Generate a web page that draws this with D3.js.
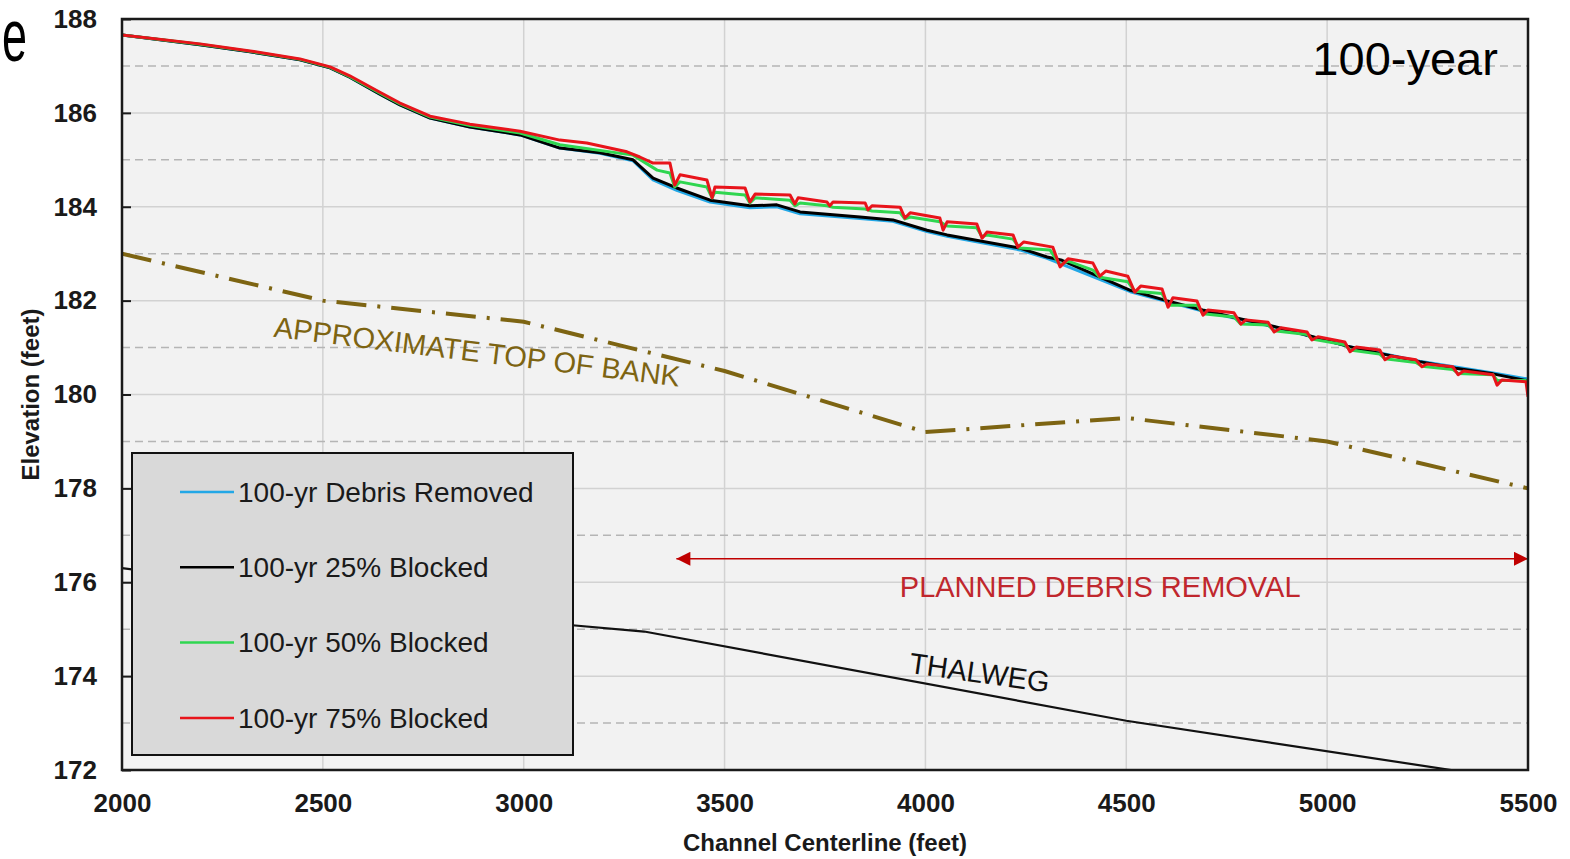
<!DOCTYPE html>
<html lang="en">

<head>
    <meta charset="UTF-8">
    <title>100-year Water Surface Profiles</title>
    <style>
        body {
            margin: 0;
            background: #fff;
            overflow: hidden;
        }

        svg {
            display: block;
        }

        text {
            font-family: "Liberation Sans", Arial, sans-serif;
        }
    </style>
</head>

<body>
    <svg></svg>

    <script src="https://d3js.org/d3.v7.min.js"></script>
    <script>
        const width = 1570;
        const height = 859;

        // axis ticks
        const xTicks = [2000, 2500, 3000, 3500, 4000, 4500, 5000, 5500];
        const yTicks = [172, 174, 176, 178, 180, 182, 184, 186, 188];
        const yMinor = [173, 175, 177, 179, 181, 183, 185, 187];

        // water surface profiles: [station (ft), elevation (ft)]
        const debrisRemoved = [
            [2000, 187.66], [2194, 187.45], [2319, 187.30], [2443, 187.13], [2518, 186.96], [2567, 186.76],
            [2642, 186.40], [2692, 186.17], [2767, 185.89], [2866, 185.70], [2991, 185.53], [3090, 185.25],
            [3190, 185.14], [3272, 184.98], [3322, 184.57], [3381, 184.35], [3464, 184.10], [3563, 183.98],
            [3630, 184.00], [3688, 183.85], [3837, 183.75], [3919, 183.69], [4004, 183.47], [4054, 183.37],
            [4235, 183.08], [4303, 182.90], [4510, 182.19], [4690, 181.78], [4868, 181.44], [5050, 181.03],
            [5230, 180.71], [5413, 180.46], [5500, 180.33]
        ];

        const blocked25 = [
            [2000, 187.66], [2194, 187.45], [2319, 187.30], [2443, 187.13], [2518, 186.96], [2567, 186.76],
            [2642, 186.40], [2692, 186.17], [2767, 185.89], [2866, 185.70], [2991, 185.53], [3090, 185.25],
            [3190, 185.15], [3272, 185.00], [3322, 184.61], [3381, 184.40], [3464, 184.14], [3563, 184.02],
            [3630, 184.04], [3688, 183.89], [3837, 183.78], [3919, 183.72], [4004, 183.50], [4054, 183.40],
            [4235, 183.12], [4303, 182.93], [4340, 182.86], [4510, 182.22], [4600, 182.00], [4690, 181.80],
            [4780, 181.62], [4868, 181.45], [4960, 181.24], [5050, 181.03], [5140, 180.86], [5230, 180.70],
            [5320, 180.56], [5413, 180.44], [5500, 180.29]
        ];

        const blocked50 = [
            [2000, 187.66], [2194, 187.46], [2319, 187.31], [2443, 187.14], [2518, 186.97], [2567, 186.77],
            [2642, 186.42], [2692, 186.19], [2767, 185.91], [2866, 185.73], [2991, 185.57], [3090, 185.32],
            [3272, 185.10], [3332, 184.78], [3364, 184.72], [3376, 184.42], [3389, 184.53], [3456, 184.42],
            [3469, 184.19], [3476, 184.31], [3551, 184.25], [3563, 184.08], [3576, 184.19], [3663, 184.14],
            [3675, 184.02], [3688, 184.08], [3755, 184.02], [3770, 183.99], [3850, 183.95], [3867, 183.91],
            [3937, 183.87], [3949, 183.74], [3962, 183.78], [4036, 183.68], [4054, 183.59], [4128, 183.55],
            [4141, 183.36], [4153, 183.40], [4218, 183.31], [4235, 183.12], [4310, 183.08], [4335, 182.76],
            [4355, 182.84], [4417, 182.65], [4434, 182.50], [4504, 182.40], [4521, 182.20], [4589, 182.15],
            [4604, 181.90], [4676, 181.90], [4691, 181.72], [4768, 181.65], [4785, 181.50], [4853, 181.48],
            [4868, 181.36], [4950, 181.28], [4962, 181.18], [5044, 181.06], [5057, 180.95], [5131, 180.86],
            [5144, 180.76], [5221, 180.68], [5236, 180.60], [5313, 180.53], [5326, 180.45], [5413, 180.42],
            [5423, 180.30], [5495, 180.30], [5500, 180.25]
        ];

        const blocked75 = [
            [2000, 187.66], [2194, 187.47], [2319, 187.32], [2443, 187.15], [2518, 186.98], [2567, 186.79],
            [2642, 186.44], [2692, 186.21], [2767, 185.93], [2866, 185.76], [2991, 185.61], [3090, 185.42],
            [3157, 185.36], [3257, 185.17], [3289, 185.06], [3322, 184.93], [3364, 184.93], [3376, 184.46],
            [3389, 184.68], [3456, 184.57], [3469, 184.19], [3476, 184.42], [3551, 184.40], [3563, 184.10],
            [3576, 184.27], [3663, 184.25], [3675, 184.06], [3683, 184.19], [3755, 184.10], [3762, 184.02],
            [3770, 184.10], [3850, 184.08], [3857, 183.93], [3867, 184.02], [3937, 183.99], [3949, 183.76],
            [3962, 183.87], [4036, 183.76], [4044, 183.50], [4054, 183.68], [4128, 183.63], [4141, 183.33],
            [4153, 183.46], [4218, 183.40], [4230, 183.14], [4245, 183.25], [4317, 183.14], [4335, 182.72],
            [4355, 182.89], [4417, 182.80], [4434, 182.52], [4449, 182.63], [4504, 182.52], [4521, 182.18],
            [4536, 182.31], [4589, 182.25], [4604, 181.86], [4616, 182.06], [4676, 181.99], [4691, 181.69],
            [4703, 181.80], [4768, 181.74], [4785, 181.50], [4798, 181.59], [4853, 181.54], [4868, 181.33],
            [4885, 181.42], [4950, 181.33], [4962, 181.16], [4977, 181.23], [5044, 181.12], [5057, 180.91],
            [5072, 181.01], [5131, 180.95], [5144, 180.74], [5159, 180.82], [5221, 180.74], [5236, 180.59],
            [5248, 180.65], [5313, 180.59], [5326, 180.42], [5340, 180.50], [5413, 180.42], [5423, 180.20],
            [5435, 180.31], [5495, 180.27], [5500, 179.95]
        ];

        // reference lines
        const topOfBank = [
            [2000, 183.0], [2500, 182.0], [3000, 181.55], [3500, 180.5], [4000, 179.2],
            [4500, 179.5], [5000, 179.0], [5500, 178.0]
        ];
        const thalweg = [[2000, 176.3], [3100, 175.1], [3300, 174.95], [4500, 173.05], [5500, 171.75]];
        const removalReach = [3380, 5500];
        const removalElev = 176.5;

        const series = [
            { name: "100-yr Debris Removed", color: "#22a7e6", data: debrisRemoved },
            { name: "100-yr 25% Blocked", color: "#000000", data: blocked25 },
            { name: "100-yr 50% Blocked", color: "#2fd650", data: blocked50 },
            { name: "100-yr 75% Blocked", color: "#e8141b", data: blocked75 }
        ];

        const svg = d3.select("svg")
            .attr("width", width)
            .attr("height", height);

        const x = d3.scaleLinear().domain([2000, 5500]).range([122, 1528]);
        const y = d3.scaleLinear().domain([172, 188]).range([770, 19]);

        const line = d3.line().x(d => x(d[0])).y(d => y(d[1]));

        // leftover last letter of the slide title (narrowed so it stays on the page)
        svg.append("text")
            .attr("transform", "translate(2,61) scale(0.6,1)")
            .style("font-size", "75px")
            .text("e");

        // plot background
        svg.append("rect")
            .attr("x", x(2000)).attr("y", y(188))
            .attr("width", x(5500) - x(2000)).attr("height", y(172) - y(188))
            .attr("fill", "#f2f2f2");

        svg.append("clipPath").attr("id", "plot")
            .append("rect")
            .attr("x", x(2000)).attr("y", y(188))
            .attr("width", x(5500) - x(2000)).attr("height", y(172) - y(188));

        // grid
        const grid = svg.append("g");
        grid.selectAll(".vgrid")
            .data(xTicks.slice(1, -1))
            .join("line")
            .attr("x1", d => x(d)).attr("x2", d => x(d))
            .attr("y1", y(188)).attr("y2", y(172))
            .attr("stroke", "#d2d2d2")
            .attr("stroke-width", 1.5);
        grid.selectAll(".hgrid")
            .data(yTicks.slice(1, -1))
            .join("line")
            .attr("x1", x(2000)).attr("x2", x(5500))
            .attr("y1", d => y(d)).attr("y2", d => y(d))
            .attr("stroke", "#d2d2d2")
            .attr("stroke-width", 1.5);
        grid.selectAll(".hminor")
            .data(yMinor)
            .join("line")
            .attr("x1", x(2000)).attr("x2", x(5500))
            .attr("y1", d => y(d)).attr("y2", d => y(d))
            .attr("stroke", "#b5b5b5")
            .attr("stroke-width", 1.5)
            .attr("stroke-dasharray", "8,5");

        const plot = svg.append("g").attr("clip-path", "url(#plot)");

        // approximate top of bank (dash-dot)
        plot.append("path")
            .datum(topOfBank)
            .attr("d", line)
            .attr("fill", "none")
            .attr("stroke", "#7d6412")
            .attr("stroke-width", 4)
            .attr("stroke-dasharray", "30,11,3,11");

        // thalweg
        plot.append("path")
            .datum(thalweg)
            .attr("d", line)
            .attr("fill", "none")
            .attr("stroke", "#111")
            .attr("stroke-width", 2.2);

        // water surface profiles
        plot.selectAll(".wsel")
            .data(series)
            .join("path")
            .attr("d", d => line(d.data))
            .attr("fill", "none")
            .attr("stroke", d => d.color)
            .attr("stroke-width", 3)
            .attr("stroke-linejoin", "round");

        // planned debris removal arrow
        const defs = svg.append("defs");
        ["start", "end"].forEach(k => {
            defs.append("marker")
                .attr("id", "arrow-" + k)
                .attr("viewBox", "0 0 10 10")
                .attr("refX", k === "end" ? 10 : 0)
                .attr("refY", 5)
                .attr("markerWidth", 16)
                .attr("markerHeight", 14)
                .attr("markerUnits", "userSpaceOnUse")
                .attr("orient", "auto")
                .append("path")
                .attr("d", k === "end" ? "M0,0L10,5L0,10Z" : "M10,0L0,5L10,10Z")
                .attr("fill", "#c00000");
        });
        svg.append("line")
            .attr("x1", x(removalReach[0])).attr("x2", x(removalReach[1]))
            .attr("y1", y(removalElev)).attr("y2", y(removalElev))
            .attr("stroke", "#c00000")
            .attr("stroke-width", 1.5)
            .attr("marker-start", "url(#arrow-start)")
            .attr("marker-end", "url(#arrow-end)");

        svg.append("text")
            .attr("x", x(4435))
            .attr("y", y(175.69))
            .attr("text-anchor", "middle")
            .attr("fill", "#c0272d")
            .style("font-size", "29px")
            .text("PLANNED DEBRIS REMOVAL");

        // line annotations
        svg.append("text")
            .attr("transform", `translate(${x(2376)},${y(181.23)}) rotate(7)`)
            .attr("fill", "#7d6412")
            .style("font-size", "29px")
            .text("APPROXIMATE TOP OF BANK");

        svg.append("text")
            .attr("transform", `translate(${x(3957)},${y(174.07)}) rotate(8)`)
            .attr("fill", "#111")
            .style("font-size", "29px")
            .text("THALWEG");

        svg.append("text")
            .attr("x", x(5425))
            .attr("y", y(186.81))
            .attr("text-anchor", "end")
            .style("font-size", "47px")
            .text("100-year");

        // plot frame
        svg.append("rect")
            .attr("x", x(2000)).attr("y", y(188))
            .attr("width", x(5500) - x(2000)).attr("height", y(172) - y(188))
            .attr("fill", "none")
            .attr("stroke", "#1a1a1a")
            .attr("stroke-width", 2.5);

        // axes
        const yAxis = svg.append("g")
            .attr("transform", `translate(${x(2000)},0)`)
            .call(d3.axisLeft(y).tickValues(yTicks).tickFormat(d3.format("d"))
                .tickSizeInner(-9).tickSizeOuter(0).tickPadding(25));
        yAxis.select(".domain").remove();
        yAxis.selectAll(".tick line").attr("stroke", "#1a1a1a").attr("stroke-width", 2);
        yAxis.selectAll("text")
            .attr("fill", "#1a1a1a")
            .style("font-size", "26px")
            .style("font-weight", "bold");

        const xAxis = svg.append("g")
            .attr("transform", `translate(0,${y(172)})`)
            .call(d3.axisBottom(x).tickValues(xTicks).tickFormat(d3.format("d"))
                .tickSize(0).tickPadding(24));
        xAxis.select(".domain").remove();
        xAxis.selectAll("text")
            .attr("fill", "#1a1a1a")
            .style("font-size", "26px")
            .style("font-weight", "bold");

        svg.append("text")
            .attr("x", (x(2000) + x(5500)) / 2)
            .attr("y", 851)
            .attr("text-anchor", "middle")
            .style("font-size", "24px")
            .style("font-weight", "bold")
            .attr("fill", "#1a1a1a")
            .text("Channel Centerline (feet)");

        svg.append("text")
            .attr("transform", `translate(39,${(y(172) + y(188)) / 2}) rotate(-90)`)
            .attr("text-anchor", "middle")
            .style("font-size", "24px")
            .style("font-weight", "bold")
            .attr("fill", "#1a1a1a")
            .text("Elevation (feet)");

        // legend
        const legend = svg.append("g").attr("transform", "translate(132,453)");
        legend.append("rect")
            .attr("width", 441)
            .attr("height", 302)
            .attr("fill", "#d9d9d9")
            .attr("stroke", "#111")
            .attr("stroke-width", 2);
        const item = legend.selectAll(".item")
            .data(series)
            .join("g")
            .attr("transform", (d, i) => `translate(0,${39 + i * 75.3})`);
        item.append("line")
            .attr("x1", 48).attr("x2", 102)
            .attr("stroke", d => d.color)
            .attr("stroke-width", 2.5);
        item.append("text")
            .attr("x", 106)
            .attr("dy", "0.35em")
            .attr("fill", "#1a1a1a")
            .style("font-size", "28px")
            .text(d => d.name);
    </script>
</body>

</html>
